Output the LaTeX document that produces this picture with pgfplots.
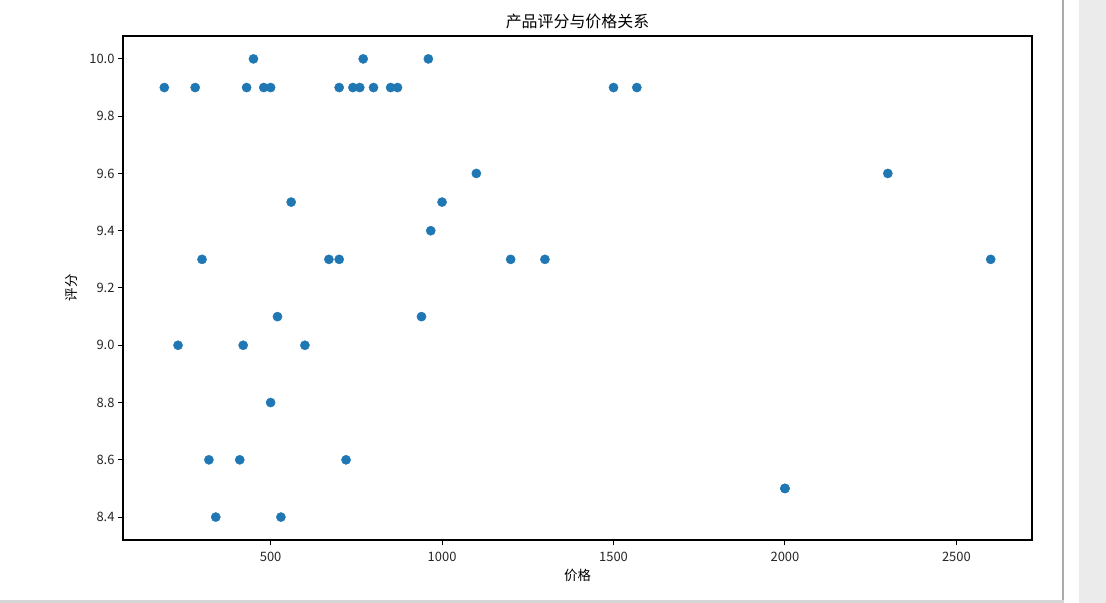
\documentclass[border=0pt]{standalone}
\usepackage{fontspec}
\setmainfont{Noto Sans CJK SC}
\usepackage{pgfplots}
\pgfplotsset{compat=1.18}
\definecolor{mplblue}{HTML}{1F77B4}
\definecolor{scrollgray}{HTML}{EBEBEB}
\definecolor{framegray}{HTML}{ABABAB}
\definecolor{bandgray}{HTML}{D6D6D6}
\begin{document}
\begin{tikzpicture}
\path[use as bounding box] (0,0) rectangle (1106bp,603bp);
\fill[white] (0,0) rectangle (1106bp,603bp);
\fill[scrollgray] (1079bp,0) rectangle (1106bp,603bp);
\draw[framegray, line width=1.2bp] (1063bp,0) -- (1063bp,603bp);
\fill[bandgray] (0,0) rectangle (1063.6bp,2.5bp);
\begin{axis}[
  at={(123bp,63bp)}, anchor=south west,
  scale only axis, width=909bp, height=504bp,
  xmin=69.5, xmax=2720.5, ymin=8.32, ymax=10.08,
  xtick={500,1000,1500,2000,2500},
  ytick={8.4,8.6,8.8,9.0,9.2,9.4,9.6,9.8,10.0},
  yticklabel style={/pgf/number format/.cd, fixed, fixed zerofill, precision=1},
  xticklabel style={yshift=-4bp, /pgf/number format/.cd, fixed, 1000 sep={}},
  /pgf/number format/assume math mode=true,
  tick label style={font=\fontsize{13}{15}\selectfont, color=black!85},
  tick align=outside, tick pos=left,
  major tick length=5bp,
  axis line style={line width=1.1bp, black},
  every tick/.style={black, line width=1bp},
  title={产品评分与价格关系},
  title style={font=\fontsize{16}{19}\selectfont, at={(0.5,1)}, anchor=base, yshift=3bp},
  xlabel={价格},
  xlabel style={font=\fontsize{13.5}{16}\selectfont, at={(axis description cs:0.5,0)}, anchor=base, yshift=-40bp},
  ylabel={评分},
  ylabel style={font=\fontsize{13.5}{16}\selectfont, at={(axis description cs:0,0.5)}, anchor=center, yshift=51bp},
]
\addplot[only marks, mark=*, mark size=4.6bp, mark options={fill=mplblue, draw=mplblue}] coordinates {
(190,9.9) (280,9.9) (430,9.9) (480,9.9) (500,9.9) (700,9.9) (740,9.9) (760,9.9) (800,9.9) (850,9.9) (870,9.9) (1500,9.9) (1568,9.9)
(450,10.0) (770,10.0) (960,10.0)
(1100,9.6) (2300,9.6)
(560,9.5) (1000,9.5)
(967,9.4)
(300,9.3) (670,9.3) (700,9.3) (1200,9.3) (1300,9.3) (2600,9.3)
(520,9.1) (940,9.1)
(230,9.0) (420,9.0) (600,9.0)
(500,8.8)
(320,8.6) (410,8.6) (720,8.6)
(340,8.4) (530,8.4)
(2000,8.5) (2000,8.5)
};
\end{axis}
\end{tikzpicture}
\end{document}
